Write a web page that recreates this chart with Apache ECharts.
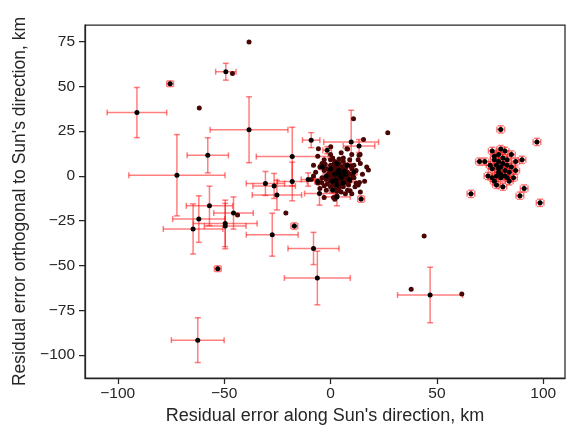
<!DOCTYPE html>
<html><head><meta charset="utf-8">
<script src="https://cdn.jsdelivr.net/npm/echarts@6/dist/echarts.min.js"></script>
<style>html,body{margin:0;padding:0;background:#fff}#c{width:568px;height:430px}</style>
</head><body><div id="c"></div>
<script>
// Tick labels
const xTicks = [-100, -50, 0, 50, 100];
const yTicks = [-100, -75, -50, -25, 0, 25, 50, 75];

// Points with large error bars: [x, y, xerr, yerr]
const wideErrPoints = [
  [-91, 35.4, 14, 14],
  [-49.2, 58.2, 4.8, 4.7],
  [-57.7, 11.5, 9.7, 9.8],
  [-38.3, 25.8, 18.3, 18.4],
  [-72.2, 0.4, 22.6, 22.7],
  [-56.9, -16.7, 10.9, 11],
  [-61.9, -24.1, 12.3, 13],
  [-64.6, -29.6, 14, 14],
  [-49.5, -26.5, 15, 13],
  [-49.5, -28, 9.8, 12.7],
  [-45.6, -20.7, 9.3, 9],
  [-62.4, -91.7, 12.4, 12.5],
  [-30.6, -4.2, 9, 6.7],
  [-26.5, -5.6, 10, 7],
  [-25.2, -10.7, 11.6, 8.3],
  [-18, 10.8, 16.9, 16.4],
  [-18, -3.1, 7, 10.8],
  [-27.4, -32.8, 12.2, 12],
  [-8, -40.5, 12, 9],
  [-6.2, -57, 15.5, 15],
  [46.8, -66.5, 15.3, 15.5],
  [9.7, 18.9, 12.9, 17.8],
  [-9.1, 20, 4.1, 4.2],
  [-10.5, -2, 3.3, 3.7],
  [-5.2, -9.8, 7, 6.5],
  [3, -11.7, 6.3, 5],
  [13.4, 16.7, 7.4, 3.6],
  [-1.6, 14.4, 2, 2]
];

// Points with small error bars: [x, y, xerr, yerr]
const smallErrPoints = [
  [-75.4, 51.5, 1.6, 1.6],
  [-53, -51.8, 1.6, 1.6],
  [-17, -28, 1.6, 1.8],
  [14.4, -12.9, 1.6, 1.8],
  [80, 26, 1.8, 2], [97, 19, 1.8, 2], [70, 8, 1.8, 2], [72.5, 8, 1.8, 2],
  [76, 14, 1.8, 2], [80, 15, 1.8, 2], [82, 14, 1.8, 2], [85, 12, 1.8, 2],
  [90, 9, 1.8, 2], [87, 8, 1.8, 2], [77, 9, 1.8, 2], [79, 4, 1.8, 2],
  [74, 0, 1.8, 2], [77, -3, 1.8, 2], [84, -3, 1.8, 2], [87, 3, 1.8, 2],
  [91, -7, 1.8, 2], [89, -11, 1.8, 2], [66, -10, 1.8, 2], [98.5, -15, 1.8, 2],
  [78, 6, 1.8, 2], [80, 5, 1.8, 2], [81, 7, 1.8, 2], [79, 2, 1.8, 2],
  [82, 3, 1.8, 2], [83, 6, 1.8, 2], [76, 4, 1.8, 2], [78, 0, 1.8, 2],
  [80, -1, 1.8, 2], [82, 0, 1.8, 2], [84, 2, 1.8, 2], [81, 10, 1.8, 2],
  [77, 11, 1.8, 2], [83, 9, 1.8, 2], [79, 8, 1.8, 2], [76, -1, 1.8, 2],
  [80, 1, 1.8, 2], [85, 5, 1.8, 2], [78, -5, 1.8, 2], [81, -6, 1.8, 2],
  [75, 6, 1.8, 2], [86, -1, 1.8, 2], [79, 12, 1.8, 2], [83, -1, 1.8, 2],
  [2, 1, 1.5, 1.5], [5, -1, 1.5, 1.5], [4, 3, 1.5, 1.5], [1, -3, 1.5, 1.5],
  [7, 1, 1.5, 1.5], [3, -5, 1.5, 1.5], [0, 4, 1.5, 1.5], [6, -4, 1.5, 1.5],
  [-2, 0, 1.5, 1.5], [9, -2, 1.5, 1.5], [3, 7, 1.5, 1.5], [-4, 5, 1.5, 1.5],
  [8, 6, 1.5, 1.5], [1, -8, 1.5, 1.5], [11, 2, 1.5, 1.5], [-6, -3, 1.5, 1.5],
  [4.5, 0.5, 1.5, 1.5], [2.5, -2.5, 1.5, 1.5], [6.5, 2.5, 1.5, 1.5], [3.5, 2.5, 1.5, 1.5]
];

// Points without error bars: [x, y]
const plainPoints = [
  [-38.3, 74.8], [-46.1, 57.2], [-61.7, 38], [-43.7, -21.8], [-21, -20.7],
  [44, -33.5], [37.9, -63.3], [61.7, -65.9], [26.9, 24.1], [10.8, 32],
  [-5.7, 15.2], [0.1, 16.3], [7.7, 15.2], [13.9, 12], [17.8, 3.3], [13.6, -3.7],
  [9.2, -8.3], [-4.1, -3.7], [-3.3, 5.6], [-8, 0], [1.4, -12], [15.5, 20.4], [13.4, 11.5],
  [3, 0], [4, 1], [2, -1], [5, -2], [1, 2], [6, 3], [3, 4], [0, -3], [4, -4], [7, -1],
  [2, 3], [5, 5], [-1, 1], [8, 2], [3, -6], [1, -5], [6, -6], [9, -3], [-2, -2], [4, 7],
  [7, 6], [10, 4], [-3, 3], [2, 8], [0, 6], [11, -1], [-4, -1], [5, -9], [8, -8], [12, 3],
  [-5, 5], [1, 10], [6, 10], [13, -5], [-6, -4], [9, 9], [-2, -8], [3, -11], [14, 7],
  [-7, 2], [10, -10], [0, 12], [-3, 9], [15, 1], [4, 2], [3, 1], [2, 0], [5, 1], [4, -1],
  [3, -2], [1, 0], [6, 0], [2, 2], [5, 3], [4, 4], [1, -2], [3, 5], [7, 2], [6, -3],
  [2, -4], [0, 0], [-1, -1], [8, -1], [5, -5], [7, 4], [1, 4], [-2, 4], [9, 1], [4, -7],
  [0, -6], [11, 6], [-4, 7], [12, -4], [-5, -7], [7, -10], [13, 9], [16, -3], [-8, 6],
  [10, 12], [5, 13], [-6, 11], [2, -13], [14, -9], [-3, -12], [17, 5], [8, 15], [-9, -2],
  [3.5, 0.5], [4.5, -0.5], [2.5, 1.5], [5.5, 1.5], [1.5, -1.5], [6.5, -1.5], [3.5, -3.5],
  [4.5, 3.5], [2.5, 5.5], [5.5, -3.5], [0.5, 1], [7.5, 0.5], [1.5, 6.5], [6.5, 5.5],
  [2.5, -6.5], [8.5, -5], [-0.5, 3], [0.5, -1.5], [4.5, 5.5], [7.5, -3.5], [3, 2.5],
  [5, 0], [2, 4.5], [6, 1.5], [4, -2.5], [1, 1], [3, -8.5], [9.5, 5.5], [-1.5, -4.5],
  [10.5, 0], [-2.5, 6.5], [6, 8], [4, 9.5], [8, -4], [-3, -5.5], [11.5, -6], [0, 9]
];

const errorData = wideErrPoints.concat(smallErrPoints);

function fmt(v) { return v < 0 ? '\u2212' + Math.abs(v) : String(v); }

function renderErr(params, api) {
  const x = api.value(0), y = api.value(1), xe = api.value(2), ye = api.value(3);
  const l = api.coord([x - xe, y]), r = api.coord([x + xe, y]);
  const t = api.coord([x, y + ye]), b = api.coord([x, y - ye]);
  const cap = 3;
  const st = { stroke: 'rgba(255,0,0,0.5)', lineWidth: 1.5, fill: null };
  const line = (x1, y1, x2, y2) => ({ type: 'line', shape: { x1, y1, x2, y2 }, style: st });
  return {
    type: 'group',
    children: [
      line(l[0], l[1], r[0], r[1]),
      line(l[0], l[1] - cap, l[0], l[1] + cap),
      line(r[0], r[1] - cap, r[0], r[1] + cap),
      line(t[0], t[1], b[0], b[1]),
      line(t[0] - cap, t[1], t[0] + cap, t[1]),
      line(b[0] - cap, b[1], b[0] + cap, b[1])
    ]
  };
}

const axisCol = '#262626';
const ff = 'Liberation Sans, Arial, sans-serif';
const chart = echarts.init(document.getElementById('c'), null, { renderer: 'canvas' });
chart.setOption({
  animation: false,
  backgroundColor: '#fff',
  textStyle: { fontFamily: ff },
  grid: { left: 85, right: 3, top: 25, bottom: 50, show: true, borderColor: axisCol, borderWidth: 1.25, backgroundColor: 'transparent' },
  xAxis: {
    type: 'value', min: -115.4, max: 110.2,
    name: "Residual error along Sun's direction, km", nameLocation: 'middle', nameGap: 22,
    nameTextStyle: { fontSize: 18, color: axisCol, fontFamily: ff },
    axisLine: { show: true, onZero: false, lineStyle: { color: axisCol, width: 1.25 } },
    axisTick: { show: true, length: 6, inside: false, customValues: xTicks, lineStyle: { color: axisCol, width: 1.25 } },
    axisLabel: { customValues: xTicks, formatter: fmt, fontSize: 15.5, color: axisCol, margin: 8, fontFamily: ff },
    splitLine: { show: false }
  },
  yAxis: {
    type: 'value', min: -112.9, max: 84.3,
    name: "Residual error orthogonal to Sun's direction, km", nameLocation: 'middle', nameGap: 47,
    nameTextStyle: { fontSize: 17.5, color: axisCol, fontFamily: ff },
    axisLine: { show: true, onZero: false, lineStyle: { color: axisCol, width: 1.25 } },
    axisTick: { show: true, length: 6, inside: false, customValues: yTicks, lineStyle: { color: axisCol, width: 1.25 } },
    axisLabel: { customValues: yTicks, formatter: fmt, fontSize: 15.5, color: axisCol, margin: 10, fontFamily: ff },
    splitLine: { show: false }
  },
  series: [
    { type: 'custom', renderItem: renderErr, data: errorData, z: 2, silent: true, clip: true },
    { type: 'scatter', data: plainPoints, symbolSize: 5, itemStyle: { color: '#4a0505', opacity: 1 }, z: 3 },
    { type: 'scatter', data: errorData.map(d => [d[0], d[1]]), symbolSize: 5, itemStyle: { color: '#000', opacity: 1 }, z: 4 }
  ]
});
</script></body></html>
